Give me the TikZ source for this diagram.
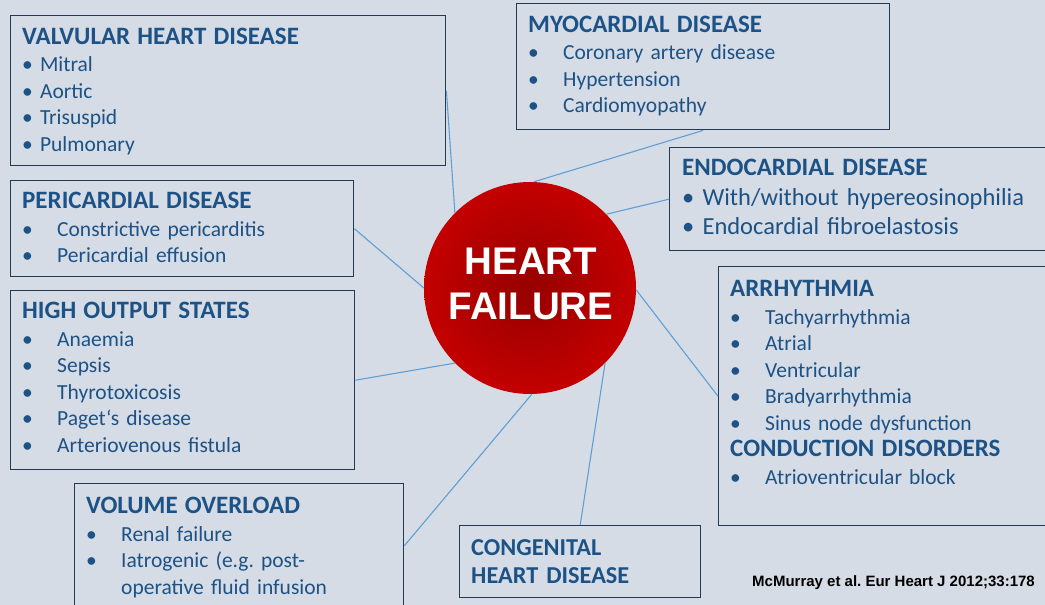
\documentclass[tikz,border=0pt]{standalone}
\usepackage{fontspec}
\setmainfont{Carlito}
\newfontfamily\arialfont{Liberation Sans}
\usetikzlibrary{positioning}
\definecolor{bgblue}{RGB}{214,220,229}
\definecolor{boxline}{RGB}{34,58,82}
\definecolor{txtblue}{RGB}{28,82,134}
\definecolor{linkblue}{RGB}{96,158,214}
\definecolor{hfred}{RGB}{196,0,0}
\definecolor{hfdark}{RGB}{150,0,0}
\frenchspacing

% bullet with a tab, and a tight bullet
\newcommand\tabitem[1]{\makebox[35pt][l]{\textbullet}#1}
\newcommand\tightitem[1]{\textbullet\ #1}
\newcommand\boxhead[1]{\textbf{\fontsize{25}{26.5}\selectfont #1}}

\begin{document}
\begin{tikzpicture}[x=1pt,y=-1pt,
  box/.style={draw=boxline,line width=1.4pt,anchor=north west,inner sep=0pt},
  txt/.style={anchor=base west,inner sep=0pt,align=left,text=txtblue,
    text width=#1,font=\fontsize{21.5}{26.5}\selectfont},
  txt/.default=340pt,
  link/.style={draw=linkblue,line width=1.1pt}]

  \fill[bgblue] (0,0) rectangle (1045,605);
  \useasboundingbox (0,0) rectangle (1045,605);
  \clip (0,0) rectangle (1045,605);

  % boxes
  \node[box,minimum width=435pt,minimum height=150pt] (valv) at (10,15) {};
  \node[box,minimum width=373pt,minimum height=126pt] (myo) at (516,3) {};
  \node[box,minimum width=420pt,minimum height=103pt] (endo) at (669,147) {};
  \node[box,minimum width=343pt,minimum height=96pt] (peri) at (10,180) {};
  \node[box,minimum width=344pt,minimum height=179pt] (high) at (10,290) {};
  \node[box,minimum width=420pt,minimum height=259pt] (arr) at (718,266) {};
  \node[box,minimum width=329pt,minimum height=124pt] (vol) at (74,483) {};
  \node[box,minimum width=241pt,minimum height=72pt] (cong) at (459,525) {};

  % texts
  \node[txt] (valv-txt) at (22,44) {\boxhead{VALVULAR HEART DISEASE}\\[1.5pt]
    \tightitem{Mitral}\\ \tightitem{Aortic}\\ \tightitem{Trisuspid}\\ \tightitem{Pulmonary}};
  \node[txt] (myo-txt) at (528,32) {\boxhead{MYOCARDIAL DISEASE}\\[1.5pt]
    \tabitem{Coronary artery disease}\\ \tabitem{Hypertension}\\ \tabitem{Cardiomyopathy}};
  \node[txt=380pt,font=\fontsize{24.5}{29}\selectfont] (endo-txt) at (682,175)
    {\boxhead{ENDOCARDIAL DISEASE}\\[1pt]
    \tightitem{With/without hypereosinophilia}\\ \tightitem{Endocardial fibroelastosis}};
  \node[txt] (peri-txt) at (22,208) {\boxhead{PERICARDIAL DISEASE}\\[1.5pt]
    \tabitem{Constrictive pericarditis}\\ \tabitem{Pericardial effusion}};
  \node[txt] (high-txt) at (22,318) {\boxhead{HIGH OUTPUT STATES}\\[1.5pt]
    \tabitem{Anaemia}\\ \tabitem{Sepsis}\\ \tabitem{Thyrotoxicosis}\\
    \tabitem{Paget‘s disease}\\ \tabitem{Arteriovenous fistula}};
  \node[txt] (arr-txt) at (730,296) {\boxhead{ARRHYTHMIA}\\[1.5pt]
    \tabitem{Tachyarrhythmia}\\ \tabitem{Atrial}\\ \tabitem{Ventricular}\\
    \tabitem{Bradyarrhythmia}\\ \tabitem{Sinus node dysfunction}\\
    \boxhead{CONDUCTION DISORDERS}\\[1.5pt]
    \tabitem{Atrioventricular block}};
  \node[txt] (vol-txt) at (86,513) {\boxhead{VOLUME OVERLOAD}\\[1.5pt]
    \tabitem{Renal failure}\\ \tabitem{Iatrogenic (e.g. post-}\\
    \hspace*{35pt}operative fluid infusion};
  \node[txt,font=\fontsize{24.3}{28}\selectfont\bfseries] (cong-txt) at (471,555)
    {CONGENITAL\\ HEART DISEASE};

  % centre
  \node[circle,minimum size=212pt,inner sep=0pt,inner color=hfdark,outer color=hfred]
    (hf) at (530,288) {};
  \node[anchor=base,inner sep=0pt,align=center,text width=200pt,text=white,
    font=\arialfont\bfseries\fontsize{38.5}{45}\selectfont] (hf-txt) at (531,274)
    {HEART\\ FAILURE};

  \node[anchor=base west,inner sep=0pt,font=\arialfont\bfseries\fontsize{15}{18}\selectfont]
    (ref) at (752,586) {McMurray et al. Eur Heart J 2012;33:178};

  % connectors
  \draw[link] (hf.135) -- (valv.east);
  \draw[link] (hf.88) -- (myo.south);
  \draw[link] (hf.44) -- (endo.west);
  \draw[link] (hf.180) -- (peri.east);
  \draw[link] (hf.225) -- (high.east);
  \draw[link] (hf.271) -- (vol.east);
  \draw[link] (hf.315) -- (cong.north);
  \draw[link] (hf.359) -- (arr.west);

\end{tikzpicture}
\end{document}
